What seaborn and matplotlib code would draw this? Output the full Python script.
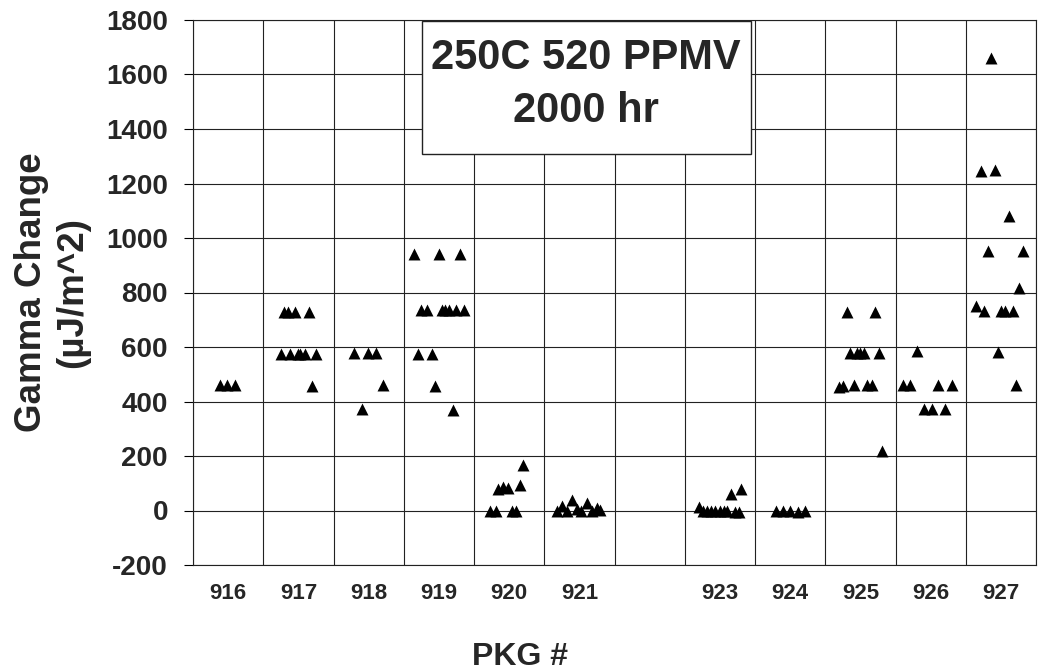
import numpy as np
import pandas as pd
import matplotlib
matplotlib.use("Agg")
import matplotlib.pyplot as plt
import seaborn as sns
from matplotlib.patches import Rectangle
from matplotlib.ticker import FixedLocator

# Package numbers and their axis labels (922 has no data and no label)
packages = [916, 917, 918, 919, 920, 921, 922, 923, 924, 925, 926, 927]
tick_labels = ["916", "917", "918", "919", "920", "921", "", "923", "924", "925", "926", "927"]

# Per-package measurements: horizontal offset inside the package slot, gamma change (uJ/m^2)
offsets_916 = [-0.12, -0.01, 0.10]
gamma_916 = [462, 462, 462]

offsets_917 = [-0.21, -0.15, -0.045, 0.15, -0.25, -0.12, -0.01, 0.02, 0.09, 0.25, 0.20]
gamma_917 = [729, 729, 729, 729, 574, 574, 574, 574, 574, 574, 456]

offsets_918 = [-0.21, -0.01, 0.10, 0.20, -0.10]
gamma_918 = [578, 578, 578, 462, 373]

offsets_919 = [-0.36, 0.0, 0.30, -0.26, -0.17, 0.04, 0.09, 0.145, 0.25, 0.355,
               -0.30, -0.10, -0.05, 0.20]
gamma_919 = [943, 943, 943, 735, 735, 735, 735, 735, 735, 735, 574, 574, 456, 369]

offsets_920 = [-0.27, -0.19, 0.04, 0.10, -0.16, -0.09, -0.02, 0.15, 0.20]
gamma_920 = [0, 0, 0, 0, 78, 88, 82, 95, 168]

offsets_921 = [-0.32, -0.25, -0.18, -0.10, -0.04, 0.03, 0.11, 0.18, 0.25, 0.30]
gamma_921 = [0, 15, 0, 40, 5, 0, 28, 0, 8, 3]

offsets_923 = [-0.30, -0.24, -0.18, -0.12, -0.065, 0.0, 0.06, 0.105, 0.21, 0.27, 0.16, 0.30]
gamma_923 = [13, 0, 0, 0, 0, 0, 0, 0, -5, -5, 60, 78]

offsets_924 = [-0.20, -0.10, 0.0, 0.11, 0.21]
gamma_924 = [0, 0, 0, -5, -3]

offsets_925 = [-0.19, 0.21, -0.145, -0.05, -0.01, 0.05, 0.26, -0.30, -0.25, -0.09, 0.10, 0.16, 0.31]
gamma_925 = [729, 729, 578, 578, 578, 578, 578, 453, 457, 459, 459, 459, 220]

offsets_926 = [-0.19, -0.40, -0.29, 0.11, 0.31, -0.10, 0.02, 0.21]
gamma_926 = [587, 462, 462, 462, 462, 373, 373, 373]

offsets_927 = [-0.14, -0.29, -0.09, 0.11, -0.185, 0.31, 0.26, -0.35, -0.235, 0.0, 0.065, 0.17, -0.04, 0.21]
gamma_927 = [1661, 1245, 1250, 1080, 951, 951, 817, 750, 731, 731, 731, 731, 583, 459]

groups = {
    916: (offsets_916, gamma_916),
    917: (offsets_917, gamma_917),
    918: (offsets_918, gamma_918),
    919: (offsets_919, gamma_919),
    920: (offsets_920, gamma_920),
    921: (offsets_921, gamma_921),
    923: (offsets_923, gamma_923),
    924: (offsets_924, gamma_924),
    925: (offsets_925, gamma_925),
    926: (offsets_926, gamma_926),
    927: (offsets_927, gamma_927),
}

rows = []
for pkg, (offs, vals) in groups.items():
    for o, v in zip(offs, vals):
        rows.append({"pkg": pkg, "position": pkg + o, "gamma": v})
df = pd.DataFrame(rows)

sns.set_theme(style="white")
plt.rcParams["font.family"] = ["Liberation Sans", "DejaVu Sans"]
plt.rcParams["font.weight"] = "bold"
plt.rcParams["axes.labelweight"] = "bold"
plt.rcParams["axes.unicode_minus"] = False

fig = plt.figure(figsize=(10.39, 6.71), dpi=100)
ax = fig.add_axes([193 / 1039, 1 - 565 / 671, 843 / 1039, 545 / 671])

sns.scatterplot(data=df, x="position", y="gamma", marker="^", color="black",
                s=74, linewidth=0, ax=ax, legend=False, zorder=3)

ax.set_xlim(915.5, 927.5)
ax.set_ylim(-200, 1800)
ax.set_yticks(np.arange(-200, 1801, 200))
ax.set_xticks(packages)
ax.set_xticklabels(tick_labels)
ax.xaxis.set_minor_locator(FixedLocator(np.arange(915.5, 927.6, 1.0)))

ax.set_axisbelow(True)
ax.grid(False)
ax.grid(axis="x", which="minor", color="#222222", linewidth=0.8)
ax.grid(axis="y", which="major", color="#222222", linewidth=0.8)

ax.tick_params(axis="x", which="both", length=0, pad=13, labelsize=16)
ax.tick_params(axis="y", which="major", left=True, length=6.5, width=0.8,
               color="black", direction="out", pad=11.5, labelsize=20)

for side in ["left", "bottom", "top", "right"]:
    ax.spines[side].set_visible(True)
    ax.spines[side].set_color("#222222")
    ax.spines[side].set_linewidth(0.8)

ax.set_ylabel("Gamma Change\n(\u00b5J/m^2)", fontsize=26.5, linespacing=1.25)
ax.yaxis.set_label_coords(-0.167, 0.5)
ax.yaxis.label.set_va("center")

ax.set_xlabel("PKG #", fontsize=23)
ax.xaxis.set_label_coords(0.388, -0.168)
ax.xaxis.label.set_va("center")

# Test condition callout
ax.add_patch(Rectangle((0.2713, 0.7536), 0.3903, 0.2451, transform=ax.transAxes,
                       facecolor="white", edgecolor="#222222", linewidth=1.0, zorder=4))
ax.text(0.4662, 0.8815, "250C 520 PPMV\n2000 hr", transform=ax.transAxes,
        ha="center", va="center", fontsize=30, fontweight="bold",
        linespacing=1.4, zorder=5)

fig.savefig("out.png", dpi=100)
